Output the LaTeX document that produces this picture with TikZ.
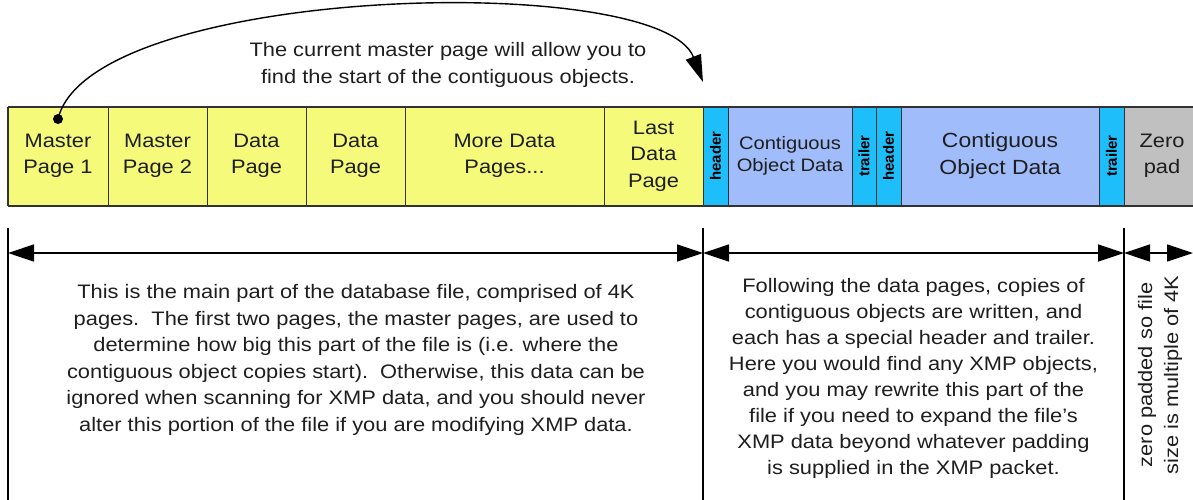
\documentclass[tikz,border=0pt]{standalone}
\usepackage{fontspec}
\setmainfont{Liberation Sans}[FakeStretch=1.12]
\newfontfamily\boldlbl{Liberation Sans Bold}[FakeStretch=1.0]
\usetikzlibrary{arrows.meta}
\definecolor{yel}{RGB}{246,250,122}
\definecolor{cyn}{RGB}{30,190,250}
\definecolor{lblue}{RGB}{160,188,250}
\definecolor{gry}{RGB}{192,192,192}
\definecolor{txt}{RGB}{30,30,30}
\definecolor{edge}{RGB}{50,50,50}
\begin{document}
\begin{tikzpicture}[x=1pt,y=-1pt,
  cell/.style={draw=edge, line width=1pt, minimum height=98pt, inner sep=0pt, text=txt,
    align=center, font=\fontsize{19.5}{26.5}\selectfont},
  thin/.style={cell, minimum width=25pt},
  vlabel/.style={rotate=90, font=\boldlbl\fontsize{15}{16}\selectfont, text=black},
  body/.style={align=center, text=txt, inner sep=0pt, font=\fontsize{19.5}{26.5}\selectfont},
  dim/.style={line width=1.4pt, {Triangle[length=26pt,width=17pt]}-{Triangle[length=26pt,width=17pt]}},
  guide/.style={line width=1.4pt}
]
\useasboundingbox (0,0) rectangle (1193,499);

% cells
\node[cell, fill=yel, minimum width=100pt] (mp1) at (58,156) {Master\\Page 1};
\node[cell, fill=yel, minimum width=99pt] (mp2) at (157.5,156) {Master\\Page 2};
\node[cell, fill=yel, minimum width=99pt] (dp1) at (256.5,156) {Data\\Page};
\node[cell, fill=yel, minimum width=99pt] (dp2) at (355.5,156) {Data\\Page};
\node[cell, fill=yel, minimum width=199pt] (more) at (504.5,156) {More Data\\Pages...};
\node[cell, fill=yel, minimum width=99pt] (last) at (653.5,156) {Last\\Data\\Page};
\node[thin, fill=cyn] (h1) at (715.5,156) {};
\node[vlabel] at (h1.center) {header};
\node[cell, fill=lblue, minimum width=124pt, font=\fontsize{18}{22.5}\selectfont] (cod1) at (790,156) {Contiguous\\Object Data};
\node[thin, fill=cyn, minimum width=24pt] (t1) at (864,156) {};
\node[vlabel] at (t1.center) {trailer};
\node[thin, fill=cyn] (h2) at (888.5,156) {};
\node[vlabel] at (h2.center) {header};
\node[cell, fill=lblue, minimum width=198pt, font=\fontsize{20.5}{27}\selectfont] (cod2) at (1000,156) {Contiguous\\Object Data};
\node[thin, fill=cyn] (t2) at (1111.5,156) {};
\node[vlabel] at (t2.center) {trailer};
\node[cell, fill=gry, minimum width=76pt] (zp) at (1162,156) {Zero\\pad};

% outer frame
\draw[edge, line width=2pt] (mp1.north west) -- (zp.north east);
\draw[edge, line width=2pt] (mp1.south west) -- (zp.south east);
\draw[edge, line width=2pt] (mp1.north west) -- (mp1.south west);

% top annotation
\node[body] (note) at (448,65) {The current master page will allow you to\\find the start of the contiguous objects.};
\node[circle, fill=black, inner sep=0pt, minimum size=10pt] (dot) at (58,119) {};
\coordinate (tip) at (703,82);
\draw[line width=1.4pt, -{Triangle[length=27pt,width=16pt]}] (dot.center) .. controls (90,-15) and (660,-30) .. (tip);

% guides
\coordinate (g1t) at (8,228);   \coordinate (g1b) at (8,500);
\coordinate (g2t) at (703,228); \coordinate (g2b) at (703,500);
\coordinate (g3t) at (1124,228);\coordinate (g3b) at (1124,500);
\draw[guide] (g1t) -- (g1b);
\draw[guide] (g2t) -- (g2b);
\draw[guide] (g3t) -- (g3b);

\coordinate (d1) at (8,253);
\coordinate (d2) at (703,253);
\coordinate (d3) at (1124,253);
\coordinate (d4) at (1193,253);
\draw[dim] (d1) -- (d2);
\draw[dim] (d2) -- (d3);
\draw[dim] (d3) -- (d4);

% bottom texts
\node[body] (main) at (356,360) {This is the main part of the database file, comprised of 4K\\
pages.\ \ The first two pages, the master pages, are used to\\
determine how big this part of the file is (i.e. where the\\
contiguous object copies start).\ \ Otherwise, this data can be\\
ignored when scanning for XMP data, and you should never\\
alter this portion of the file if you are modifying XMP data.};
\node[body, font=\fontsize{19.5}{26}\selectfont] (cont) at (913.5,378) {Following the data pages, copies of\\
contiguous objects are written, and\\
each has a special header and trailer.\\
Here you would find any XMP objects,\\
and you may rewrite this part of the\\
file if you need to expand the file’s\\
XMP data beyond whatever padding\\
is supplied in the XMP packet.};
\node[body, rotate=90, font=\fontsize{19.5}{26}\selectfont] (pad) at (1160,375) {zero padded so file\\size is multiple of 4K};
\end{tikzpicture}
\end{document}
